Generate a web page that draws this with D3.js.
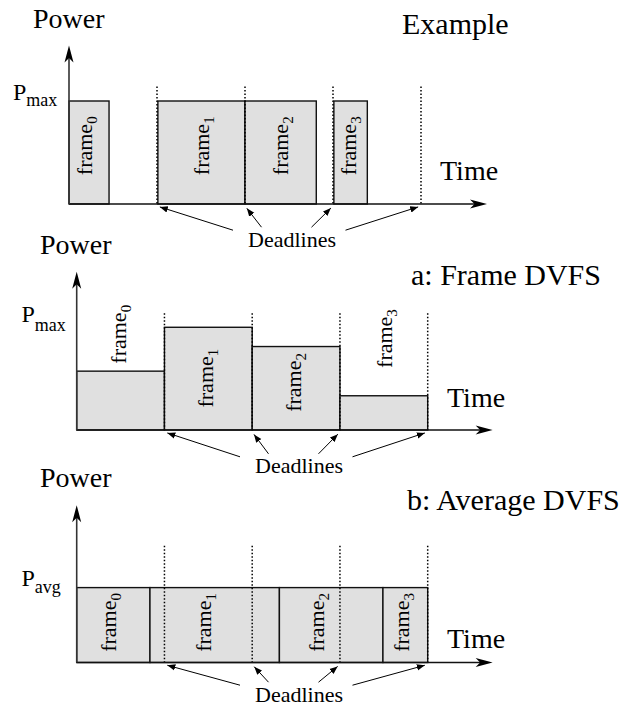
<!DOCTYPE html>
<html>
<head>
<meta charset="utf-8">
<script src="https://cdn.jsdelivr.net/npm/d3@7"></script>
<style>
  html, body { margin: 0; padding: 0; background: #fff; }
  svg { display: block; font-family: "Liberation Serif", "Times New Roman", serif; }
</style>
</head>
<body>
<svg id="chart" width="630" height="708"></svg>
<script>
// ---------- DATA ----------
const frameSubscripts = ["0", "1", "2", "3"];
const deadlines = [1, 2, 3, 4];

// Example (race to idle)
const exampleStart = [0, 1.01, 2.0, 3.01];
const exampleEnd   = [0.455, 2.0, 2.81, 3.39];
const examplePower = [1, 1, 1, 1];
const exampleLabelT = [0.205, 1.53, 2.435, 3.2];
const exampleLabelP = [0.28, 0.28, 0.28, 0.28];

// a: Frame DVFS
const frameDvfsStart = [0, 1, 2, 3];
const frameDvfsEnd   = [1, 2, 3, 4];
const frameDvfsPower = [0.55, 0.96, 0.78, 0.32];
const frameDvfsLabelT = [0.50, 1.50, 2.50, 3.54];
const frameDvfsLabelP = [0.62, 0.21, 0.17, 0.58];

// b: Average DVFS
const avgDvfsStart = [0, 0.835, 2.31, 3.49];
const avgDvfsEnd   = [0.835, 2.31, 3.49, 4.0];
const avgDvfsPower = [0.70, 0.70, 0.70, 0.70];
const avgDvfsLabelT = [0.39, 1.47, 2.76, 3.73];
const avgDvfsLabelP = [0.10, 0.10, 0.10, 0.10];

const titles = ["Example", "a: Frame DVFS", "b: Average DVFS"];
const levelLabels = [["P", "max", 1], ["P", "max", 1], ["P", "avg", 0.70]];
const axisLabelY = "Power";
const axisLabelX = "Time";
const deadlineLabel = "Deadlines";

// ---------- LAYOUT ----------
const panels = [
  { start: exampleStart, end: exampleEnd, power: examplePower, lt: exampleLabelT, lp: exampleLabelP,
    x0: 69, xUnit: 88, xMax: 4.75, base: 204, yUnit: 103, yMax: 1.54, dotTop: 1.14,
    title: { x: 402, y: 34 }, power_: { x: 33, y: 28 }, time: { x: 440, y: 180 },
    level: { x: 13, y: 100, sub: 6 },
    dl: { cx: 292, y: 246.7 } },
  { start: frameDvfsStart, end: frameDvfsEnd, power: frameDvfsPower, lt: frameDvfsLabelT, lp: frameDvfsLabelP,
    x0: 76.7, xUnit: 87.75, xMax: 4.74, base: 430, yUnit: 107, yMax: 1.48, dotTop: 1.09,
    title: { x: 411, y: 285 }, power_: { x: 40, y: 254 }, time: { x: 447, y: 407 },
    level: { x: 21.5, y: 322, sub: 9 },
    dl: { cx: 299, y: 473.3 } },
  { start: avgDvfsStart, end: avgDvfsEnd, power: avgDvfsPower, lt: avgDvfsLabelT, lp: avgDvfsLabelP,
    x0: 76.7, xUnit: 87.75, xMax: 4.74, base: 662.5, yUnit: 107, yMax: 1.47, dotTop: 1.09,
    title: { x: 407, y: 510 }, power_: { x: 40, y: 487 }, time: { x: 447, y: 648 },
    level: { x: 21.5, y: 586, sub: 7 },
    dl: { cx: 299, y: 701.7 } }
];
const arrowStartDx = [-59, -30.5, 19.5, 53.5];
const arrowStartDy = [-16.5, -19.5, -19.5, -16.5];

const svg = d3.select("#chart");

// small arrowhead marker for deadline pointers
svg.append("defs").append("marker")
  .attr("id", "tip").attr("viewBox", "0 -5 10 10")
  .attr("refX", 10).attr("refY", 0)
  .attr("markerWidth", 8).attr("markerHeight", 8)
  .attr("markerUnits", "userSpaceOnUse")
  .attr("orient", "auto")
  .append("path").attr("d", "M0,-4L10,0L0,4Z").attr("fill", "#000");

const bigHead = "M0,0L-17,-4.5L-12.5,0L-17,4.5Z";

panels.forEach((p, pi) => {
  const x = d3.scaleLinear().domain([0, p.xMax]).range([p.x0, p.x0 + p.xMax * p.xUnit]);
  const y = d3.scaleLinear().domain([0, p.yMax]).range([p.base, p.base - p.yMax * p.yUnit]);
  const g = svg.append("g");
  const idx = d3.range(p.start.length);

  // frame rectangles
  g.selectAll("rect.frame").data(idx).join("rect")
    .attr("x", i => x(p.start[i]))
    .attr("y", i => y(p.power[i]))
    .attr("width", i => x(p.end[i]) - x(p.start[i]))
    .attr("height", i => y(0) - y(p.power[i]))
    .attr("fill", "#e0e0e0")
    .attr("stroke", "#111")
    .attr("stroke-width", 1.4);

  // dotted deadline lines
  g.selectAll("line.dl").data(deadlines).join("line")
    .attr("x1", d => x(d)).attr("x2", d => x(d))
    .attr("y1", y(p.dotTop)).attr("y2", y(0))
    .attr("stroke", "#000").attr("stroke-width", 1.5)
    .attr("stroke-dasharray", "1.5,2");

  // axes
  const xEnd = x(p.xMax), yEnd = y(p.yMax);
  g.append("line").attr("x1", x(0)).attr("x2", xEnd - 10).attr("y1", y(0)).attr("y2", y(0))
    .attr("stroke", "#111").attr("stroke-width", 1.6);
  g.append("path").attr("d", bigHead).attr("transform", `translate(${xEnd},${y(0)})`).attr("fill", "#000");
  g.append("line").attr("x1", x(0)).attr("x2", x(0)).attr("y1", y(0)).attr("y2", yEnd + 10)
    .attr("stroke", "#333").attr("stroke-width", 1.6);
  g.append("path").attr("d", bigHead).attr("transform", `translate(${x(0)},${yEnd}) rotate(-90)`).attr("fill", "#000");

  // frame labels (rotated)
  g.selectAll("text.fl").data(idx).join("text")
    .attr("transform", i => `translate(${x(p.lt[i]) + 5},${y(p.lp[i])}) rotate(-90)`)
    .attr("font-size", 22).attr("fill", "#000")
    .each(function (i) {
      const t = d3.select(this);
      t.append("tspan").text("frame");
      t.append("tspan").attr("dy", 5).attr("font-size", 15).text(frameSubscripts[i]);
    });

  // texts
  g.append("text").attr("x", p.title.x).attr("y", p.title.y).attr("font-size", 30).text(titles[pi]);
  g.append("text").attr("x", p.power_.x).attr("y", p.power_.y).attr("font-size", 28).text(axisLabelY);
  g.append("text").attr("x", p.time.x).attr("y", p.time.y).attr("font-size", 28).text(axisLabelX);
  const lv = levelLabels[pi];
  const lt = g.append("text").attr("x", p.level.x).attr("y", p.level.y).attr("font-size", 24);
  lt.append("tspan").text(lv[0]);
  lt.append("tspan").attr("dy", p.level.sub).attr("font-size", 18).text(lv[1]);

  // Deadlines label and pointers
  g.append("text").attr("x", p.dl.cx).attr("y", p.dl.y).attr("font-size", 22)
    .attr("text-anchor", "middle").text(deadlineLabel);
  g.selectAll("line.ptr").data(deadlines).join("line")
    .each(function (d, i) {
      const sx = p.dl.cx + arrowStartDx[i], sy = p.dl.y + arrowStartDy[i];
      const tx = x(d), ty = y(0) + 2;
      const len = Math.hypot(tx - sx, ty - sy), sh = 3 / len;
      d3.select(this)
        .attr("x1", sx).attr("y1", sy)
        .attr("x2", tx - (tx - sx) * sh).attr("y2", ty - (ty - sy) * sh);
    })
    .attr("stroke", "#000").attr("stroke-width", 1)
    .attr("marker-end", "url(#tip)");
});
</script>
</body>
</html>
